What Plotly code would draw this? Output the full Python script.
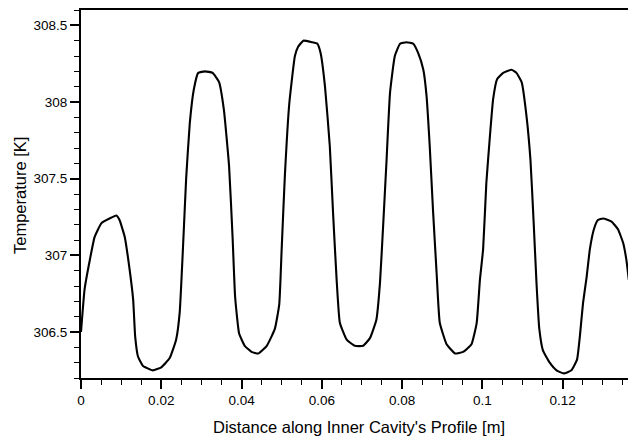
import plotly.graph_objects as go

# Distance along inner cavity's profile [m]
distance = [0.0, 0.0009, 0.0022, 0.0034, 0.0051, 0.0071, 0.0088, 0.0096, 0.0109, 0.0121,
            0.0130, 0.0135, 0.0142, 0.0154, 0.0179, 0.0200, 0.0221, 0.0237, 0.0246, 0.0255,
            0.0262, 0.0271, 0.0281, 0.0292, 0.0309, 0.0328, 0.0344, 0.0356, 0.0369, 0.0378,
            0.0384, 0.0394, 0.0408, 0.0425, 0.0442, 0.0463, 0.0483, 0.0494, 0.0500, 0.0508,
            0.0519, 0.0533, 0.0541, 0.0554, 0.0575, 0.0589, 0.0597, 0.0608, 0.0620, 0.0628,
            0.0637, 0.0645, 0.0662, 0.0682, 0.0703, 0.0720, 0.0736, 0.0745, 0.0753, 0.0761,
            0.0770, 0.0782, 0.0795, 0.0811, 0.0828, 0.0840, 0.0853, 0.0861, 0.0869, 0.0877,
            0.0886, 0.0894, 0.0911, 0.0932, 0.0952, 0.0973, 0.0986, 0.0994, 0.1002, 0.1010,
            0.1019, 0.1027, 0.1037, 0.1052, 0.1073, 0.1085, 0.1098, 0.1110, 0.1120, 0.1128,
            0.1135, 0.1142, 0.1151, 0.1168, 0.1185, 0.1203, 0.1222, 0.1236, 0.1243, 0.1251,
            0.1260, 0.1268, 0.1278, 0.1288, 0.1301, 0.1322, 0.1338, 0.1351, 0.1359, 0.1365]

# Temperature [K]
temperature = [306.50, 306.78, 306.97, 307.12, 307.21, 307.24, 307.26, 307.23, 307.12, 306.91,
               306.71, 306.47, 306.34, 306.28, 306.25, 306.27, 306.33, 306.45, 306.63, 307.10,
               307.50, 307.86, 308.08, 308.19, 308.20, 308.19, 308.13, 307.95, 307.58, 307.10,
               306.73, 306.49, 306.41, 306.37, 306.36, 306.41, 306.52, 306.68, 307.04, 307.52,
               307.99, 308.30, 308.36, 308.40, 308.39, 308.38, 308.32, 308.10, 307.71, 307.28,
               306.84, 306.56, 306.45, 306.41, 306.41, 306.46, 306.58, 306.82, 307.20, 307.60,
               308.06, 308.30, 308.38, 308.39, 308.38, 308.32, 308.21, 308.04, 307.71, 307.30,
               306.89, 306.56, 306.42, 306.36, 306.37, 306.42, 306.56, 306.84, 307.04, 307.47,
               307.78, 308.02, 308.15, 308.19, 308.21, 308.19, 308.13, 307.91, 307.62, 307.21,
               306.82, 306.52, 306.38, 306.30, 306.25, 306.23, 306.25, 306.32, 306.47, 306.69,
               306.86, 307.04, 307.17, 307.23, 307.24, 307.22, 307.17, 307.08, 306.97, 306.84]

x_tick_vals = [0, 0.02, 0.04, 0.06, 0.08, 0.1, 0.12]
x_tick_text = ["0", "0.02", "0.04", "0.06", "0.08", "0.1", "0.12"]
y_tick_vals = [306.5, 307, 307.5, 308, 308.5]
y_tick_text = ["306.5", "307", "307.5", "308", "308.5"]
x_title = "Distance along Inner Cavity's Profile [m]"
y_title = "Temperature [K]"

FONT = "Liberation Sans, Arial, Helvetica, sans-serif"

fig = go.Figure()
fig.add_trace(go.Scatter(x=distance, y=temperature, mode="lines",
                         line=dict(color="black", width=2.1, shape="spline", smoothing=0.4),
                         showlegend=False, hoverinfo="skip"))

fig.update_layout(
    width=629, height=441,
    margin=dict(l=81, r=1, t=10, b=63),
    paper_bgcolor="white", plot_bgcolor="white",
    font=dict(family=FONT, color="black", size=14),
    xaxis=dict(
        range=[0, 0.1363], tickvals=x_tick_vals, ticktext=x_tick_text,
        showgrid=False, zeroline=False, showline=True, linecolor="black", linewidth=2,
        mirror=True, ticks="outside", ticklen=9, tickwidth=1.5, tickcolor="black",
        tickfont=dict(size=13.5), automargin=False,
        minor=dict(dtick=0.005, tick0=0, ticks="outside", ticklen=5, tickwidth=1.2,
                   tickcolor="black", showgrid=False),
    ),
    yaxis=dict(
        range=[306.2, 308.6], tickvals=y_tick_vals, ticktext=y_tick_text,
        showgrid=False, zeroline=False, showline=True, linecolor="black", linewidth=2,
        ticks="outside", ticklen=9, tickwidth=1.5, tickcolor="black",
        tickfont=dict(size=13.5), automargin=False,
        minor=dict(dtick=0.1, tick0=306.2, ticks="outside", ticklen=5, tickwidth=1.2,
                   tickcolor="black", showgrid=False),
    ),
    annotations=[
        dict(text=x_title, xref="paper", yref="paper", x=0.508, y=0,
             xanchor="center", yanchor="middle", yshift=-49, showarrow=False,
             font=dict(size=16.5)),
        dict(text=y_title, xref="paper", yref="paper", x=-0.1115, y=0.4946,
             xanchor="center", yanchor="middle", textangle=-90, showarrow=False,
             font=dict(size=16.5)),
    ],
)

fig.write_html("out.html",
               config={"displayModeBar": False},
               post_script="document.body.style.margin='0px';document.body.style.overflow='hidden';")
